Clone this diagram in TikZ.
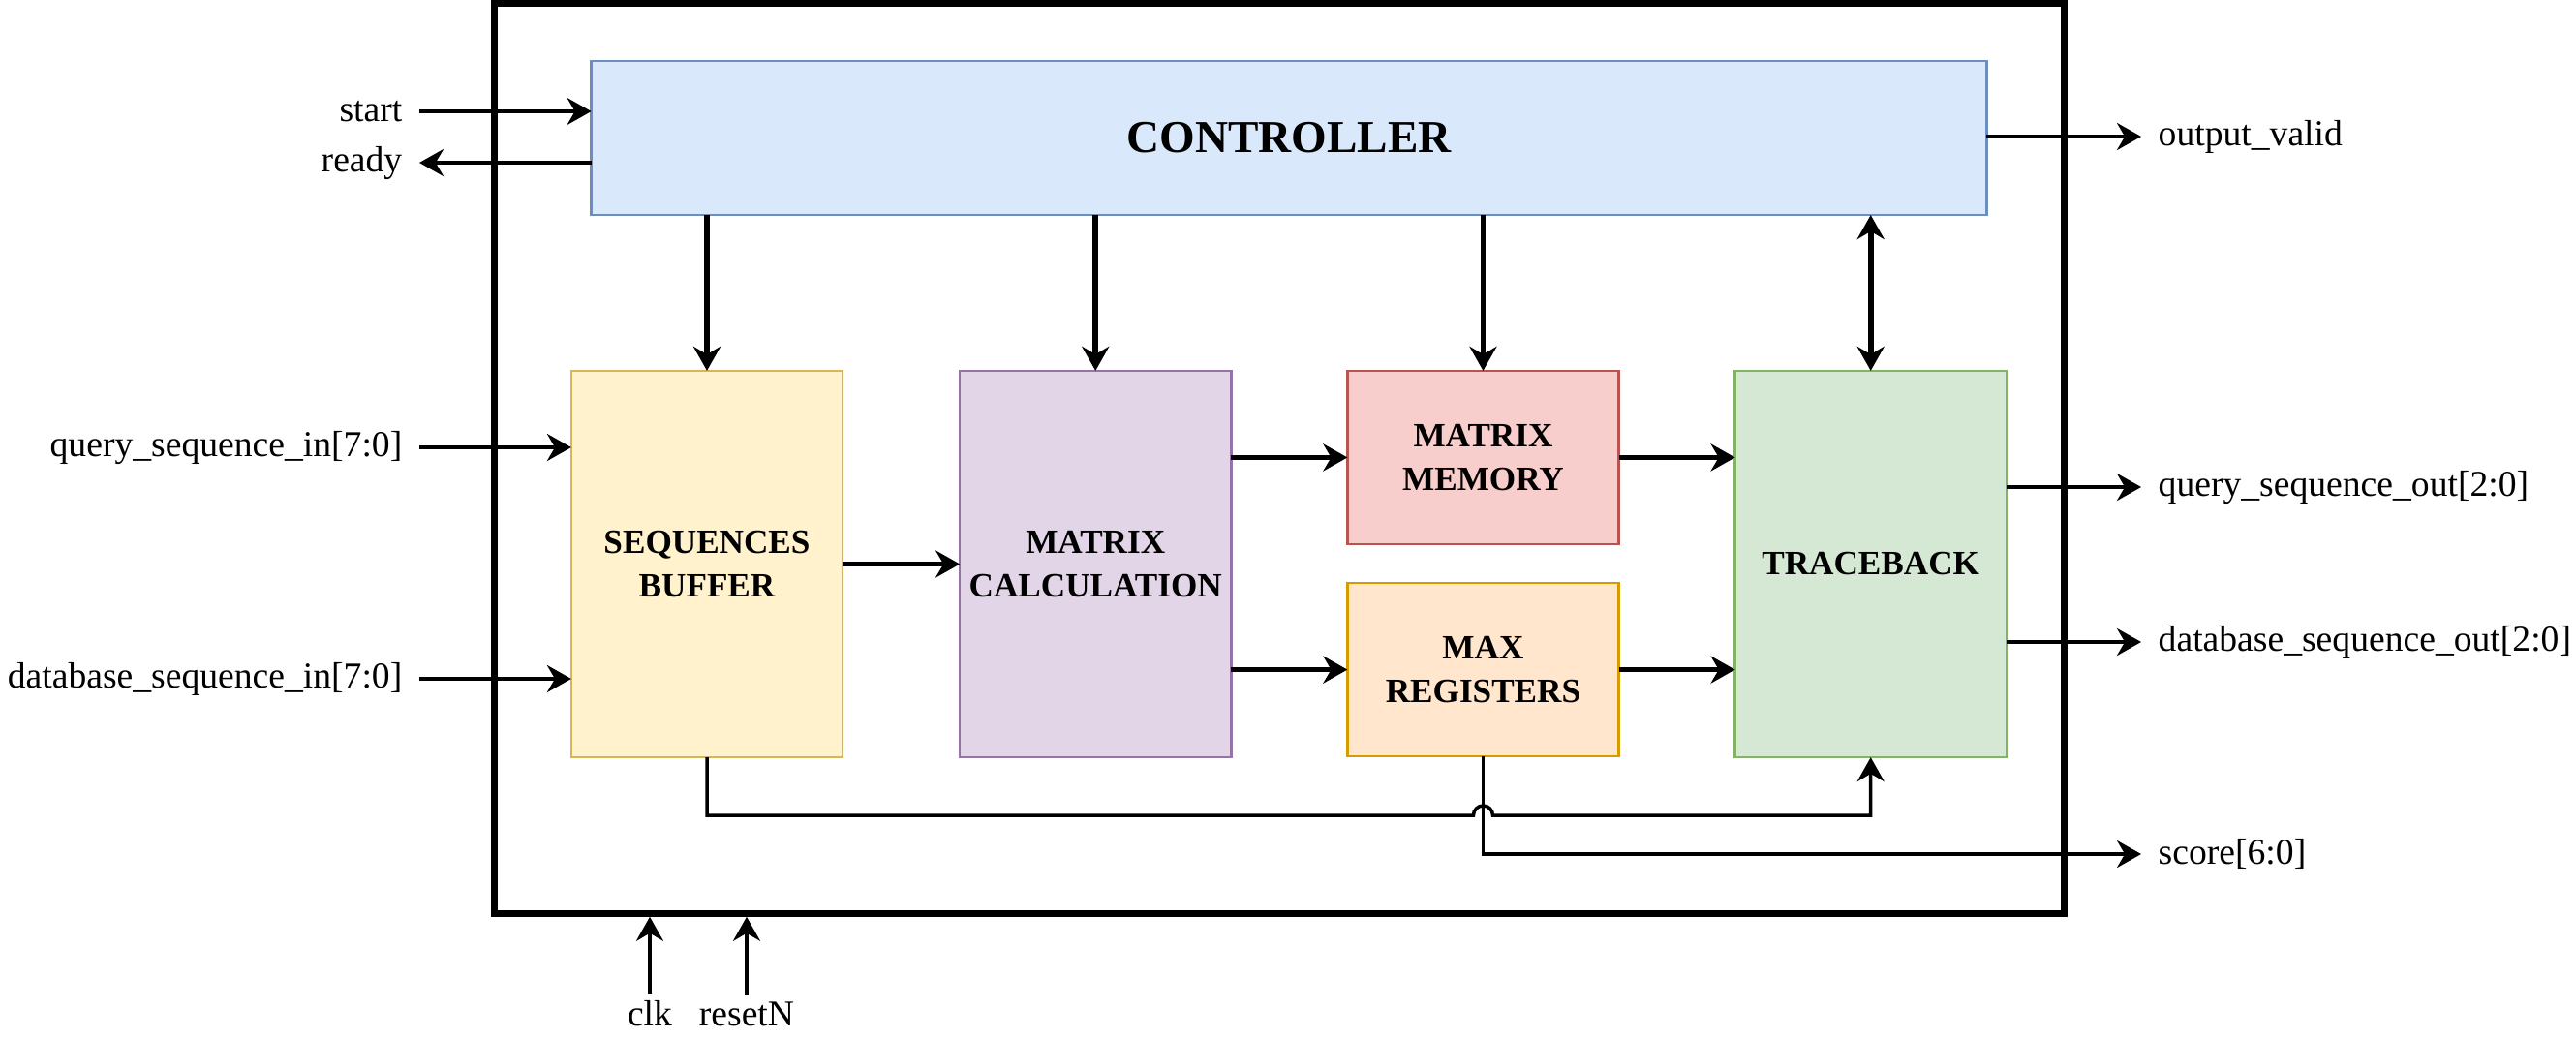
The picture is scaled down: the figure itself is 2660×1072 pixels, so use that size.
\documentclass[tikz,border=0pt]{standalone}
\usepackage{fontspec}
\setmainfont{Liberation Serif}
\usetikzlibrary{arrows.meta,positioning,calc}
\definecolor{ctrlfill}{HTML}{DAE8FC}\definecolor{ctrldraw}{HTML}{6C8EBF}
\definecolor{buffill}{HTML}{FFF2CC}\definecolor{bufdraw}{HTML}{D6B656}
\definecolor{calcfill}{HTML}{E1D5E7}\definecolor{calcdraw}{HTML}{9673A6}
\definecolor{memfill}{HTML}{F8CECC}\definecolor{memdraw}{HTML}{B85450}
\definecolor{maxfill}{HTML}{FFE6CC}\definecolor{maxdraw}{HTML}{D79B00}
\definecolor{tbfill}{HTML}{D5E8D4}\definecolor{tbdraw}{HTML}{82B366}
\tikzset{
>={Stealth[length=2.5mm,width=2.8mm]},
node distance=1.2cm,
block node/.style={draw,line width=0.7pt,minimum width=2.8cm,minimum height=3.99cm,inner sep=0pt,outer sep=0pt,align=center,font=\fontsize{10}{12.8}\selectfont\bfseries},
half node/.style={block node,minimum height=1.79cm},
pin node/.style={inner xsep=0.17cm,inner ysep=0.06cm,font=\fontsize{10.7}{12}\selectfont},
bus/.style={->,line width=1.6pt},
signal/.style={->,line width=1pt}}

\begin{document}
\begin{tikzpicture}[x=0.01cm,y=-0.01cm]
\useasboundingbox (0,0) rectangle (2660,1072);

\node (chip) [draw,line width=2pt,minimum width=16.2cm,minimum height=9.39cm] at (1321,473.5) {};
\node (ctrl) [block node,minimum width=14.4cm,minimum height=1.59cm,fill=ctrlfill,draw=ctrldraw,font=\fontsize{13.4}{16}\selectfont\bfseries] at (1331,142.5) {CONTROLLER};
\node (seqbuf) [block node,fill=buffill,draw=bufdraw] at (730,582.5) {SEQUENCES\\BUFFER};
\node (mcalc) [block node,fill=calcfill,draw=calcdraw,right=1.21cm of seqbuf] {MATRIX\\CALCULATION};
\node (mmem) [half node,fill=memfill,draw=memdraw,right=of mcalc.north east,anchor=north west] {MATRIX\\MEMORY};
\node (maxreg) [half node,fill=maxfill,draw=maxdraw,below=0.4cm of mmem] {MAX\\REGISTERS};
\node (trace) [block node,fill=tbfill,draw=tbdraw,right=of mmem.north east,anchor=north west] {TRACEBACK};

\node (start) [pin node,anchor=east] at (433,115) {start};
\node (ready) [pin node,anchor=east] at (433,168) {ready};
\node (qin) [pin node,anchor=east] at (433,462) {query\_sequence\_in[7:0]};
\node (dbin) [pin node,anchor=east] at (433,701) {database\_sequence\_in[7:0]};
\node (valid) [pin node,anchor=west] at (2211,141) {output\_valid};
\node (qout) [pin node,anchor=west] at (2211,503) {query\_sequence\_out[2:0]};
\node (dbout) [pin node,anchor=west] at (2211,663) {database\_sequence\_out[2:0]};
\node (score) [pin node,anchor=west] at (2211,882) {score[6:0]};
\node (clk) [pin node] at (671,1047) {clk};
\node (rst) [pin node] at (771,1047) {resetN};
\coordinate (tb) at (0,842);
\coordinate (jump) at ($(maxreg.south|-tb)+(-10,0)$);

\draw[bus] (ctrl.south-|seqbuf) -- (seqbuf);
\draw[bus] (ctrl.south-|mcalc) -- (mcalc);
\draw[bus] (ctrl.south-|mmem) -- (mmem);
\draw[bus,<->] (ctrl.south-|trace) -- (trace);
\draw[bus] (seqbuf) -- (mcalc);
\draw[bus] (mcalc.east|-mmem) -- (mmem);
\draw[bus] (mcalc.east|-maxreg) -- (maxreg);
\draw[bus] (mmem) -- (mmem-|trace.west);
\draw[bus] (maxreg) -- (maxreg-|trace.west);

\draw[signal] (start) -- (start-|ctrl.west);
\draw[signal,<-] (ready) -- (ready-|ctrl.west);
\draw[signal] (qin) -- (qin-|seqbuf.west);
\draw[signal] (dbin) -- (dbin-|seqbuf.west);
\draw[signal] (ctrl.east|-valid) -- (valid);
\draw[signal] (trace.east|-qout) -- (qout);
\draw[signal] (trace.east|-dbout) -- (dbout);
\draw[signal] (maxreg.south) |- (score);
\draw[signal] (seqbuf.south) |- (jump) arc[start angle=180,end angle=0,radius=0.1cm] -| (trace.south);
\draw[signal] (clk) -- (clk|-chip.south);
\draw[signal] (rst) -- (rst|-chip.south);

\end{tikzpicture}
\end{document}
